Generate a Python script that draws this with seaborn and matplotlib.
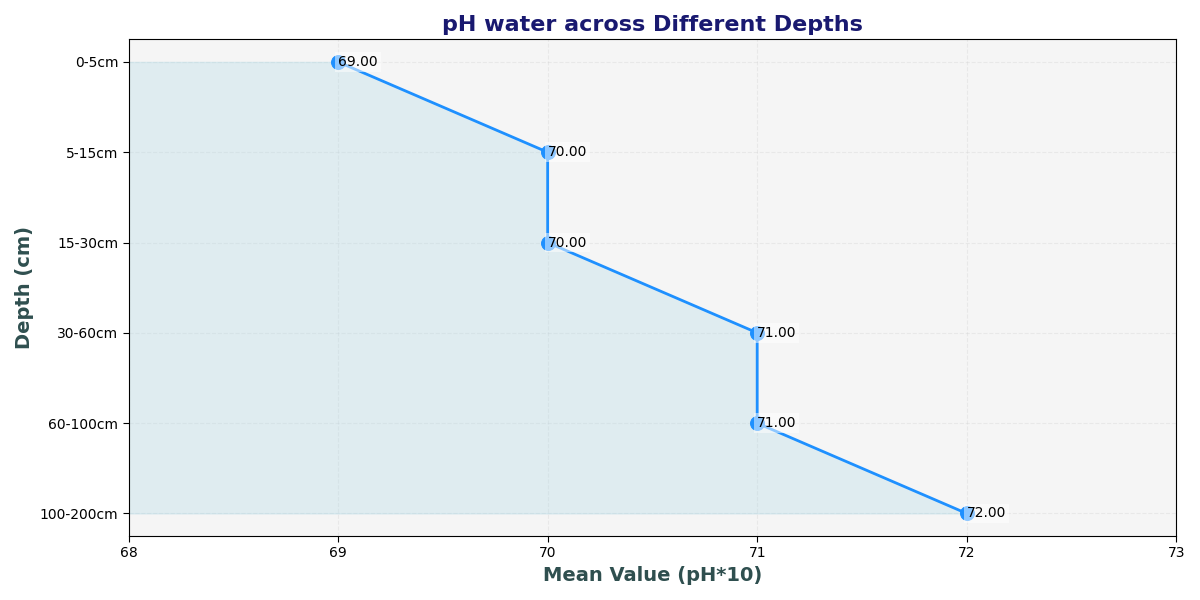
import numpy as np
import pandas as pd
import matplotlib
matplotlib.use("Agg")
import matplotlib.pyplot as plt
import seaborn as sns

# Data
depths = ['0-5cm', '5-15cm', '15-30cm', '30-60cm', '60-100cm', '100-200cm']
mean_values = [69.0, 70.0, 70.0, 71.0, 71.0, 72.0]

df = pd.DataFrame({'depth': depths, 'value': mean_values})
df['pos'] = np.arange(len(depths))

sns.set_style("ticks", rc={'text.color': 'black', 'axes.labelcolor': 'black',
                           'xtick.color': 'black', 'ytick.color': 'black',
                           'axes.edgecolor': 'black'})
fig, ax = plt.subplots(figsize=(12, 6), dpi=100)
ax.set_facecolor('whitesmoke')

ax.fill_betweenx(df['pos'], 68, df['value'], color='lightblue', alpha=0.3)
sns.lineplot(data=df, x='value', y='pos', sort=False, estimator=None, orient='y',
             color='dodgerblue', linewidth=2, marker='o', markersize=10,
             markerfacecolor='dodgerblue', markeredgecolor='dodgerblue', ax=ax)

# value labels
for v, p in zip(df['value'], df['pos']):
    ax.text(v, p, f'{v:.2f}', ha='left', va='center', fontsize=10,
            bbox=dict(facecolor='white', edgecolor='none', alpha=0.5, pad=2))

ax.set_xlim(68, 73)
ax.set_yticks(df['pos'])
ax.set_yticklabels(depths)
ax.set_ylim(5.25, -0.25)
ax.grid(True, linestyle='--', alpha=0.3)
ax.tick_params(axis='both', length=4, labelsize=10)

ax.set_title('pH water across Different Depths', fontsize=16, fontweight='bold', color='#191970')
ax.set_xlabel('Mean Value (pH*10)', fontsize=14, fontweight='bold', color='#2f4f4f')
ax.set_ylabel('Depth (cm)', fontsize=14, fontweight='bold', color='#2f4f4f')

plt.tight_layout()
plt.savefig('out.png', dpi=100)
